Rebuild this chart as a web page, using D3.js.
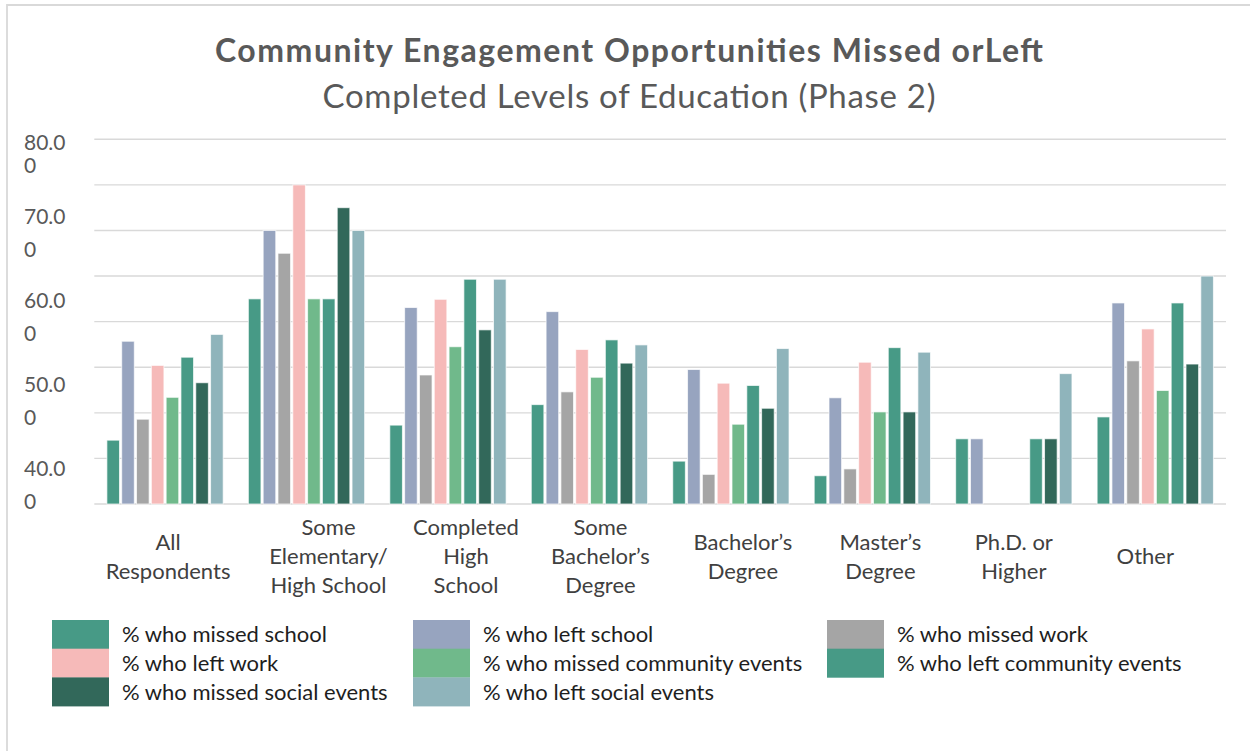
<!DOCTYPE html>
<html>
<head>
<meta charset="utf-8">
<script src="https://cdn.jsdelivr.net/npm/d3@7"></script>
<style>
  html, body { margin: 0; padding: 0; background: #ffffff; }
  svg { display: block; font-family: Lato, "Open Sans", "Noto Sans", sans-serif; }
</style>
</head>
<body>
<svg id="chart" width="1250" height="751"></svg>
<script>
// ---- data ----
const categories = [
  "All\nRespondents",
  "Some\nElementary/\nHigh School",
  "Completed\nHigh\nSchool",
  "Some\nBachelor’s\nDegree",
  "Bachelor’s\nDegree",
  "Master’s\nDegree",
  "Ph.D. or\nHigher",
  "Other"
];

const seriesNames = [
  "% who missed school",
  "% who left school",
  "% who missed work",
  "% who left work",
  "% who missed community events",
  "% who left community events",
  "% who missed social events",
  "% who left social events"
];

const missedSchool    = [14.0, 45.0, 17.3, 21.8,  9.4,  6.2, 14.3, 19.1];
const leftSchool      = [35.7, 60.0, 43.1, 42.2, 29.5, 23.3, 14.3, 44.1];
const missedWork      = [18.6, 55.0, 28.3, 24.6,  6.5,  7.7,  0.0, 31.4];
const leftWork        = [30.4, 70.0, 44.9, 33.9, 26.5, 31.1,  0.0, 38.4];
const missedCommunity = [23.4, 45.0, 34.5, 27.8, 17.5, 20.2,  0.0, 24.9];
const leftCommunity   = [32.2, 45.0, 49.3, 36.0, 26.0, 34.3, 14.3, 44.1];
const missedSocial    = [26.6, 65.0, 38.2, 30.9, 21.0, 20.2, 14.3, 30.7];
const leftSocial      = [37.2, 60.0, 49.3, 34.9, 34.1, 33.3, 28.6, 50.0];

const seriesValues = [missedSchool, leftSchool, missedWork, leftWork,
                      missedCommunity, leftCommunity, missedSocial, leftSocial];

const yTickLabels = ["80.00", "70.00", "60.00", "50.00", "40.00"];

// ---- styling ----
const seriesColors = ["#479A86", "#97A4BF", "#A5A5A5", "#F6BAB9",
                      "#70B98B", "#479A86", "#32685A", "#8FB4BB"];
const labelNudge = [3, 22, 18, 11, 12, 8, 0, -10];

const svg = d3.select("#chart");
const plot = { left: 94.3, right: 1226, top: 139.3, bottom: 504 };

// outer frame (left and top edges visible)
svg.append("path")
  .attr("d", `M7,760 L7,5 L1260,5`)
  .attr("fill", "none")
  .attr("stroke", "#d9d9d9")
  .attr("stroke-width", 1.8);

// titles
svg.append("text")
  .attr("x", 629).attr("y", 62)
  .attr("text-anchor", "middle")
  .attr("font-size", 32).attr("font-weight", 700)
  .attr("fill", "#595959")
  .attr("textLength", 828).attr("lengthAdjust", "spacing")
  .text("Community Engagement Opportunities Missed orLeft");

svg.append("text")
  .attr("x", 629).attr("y", 108)
  .attr("text-anchor", "middle")
  .attr("font-size", 33)
  .attr("fill", "#595959")
  .attr("textLength", 613).attr("lengthAdjust", "spacing")
  .text("Completed Levels of Education (Phase 2)");

// scales
const y = d3.scaleLinear().domain([0, 80]).range([plot.bottom, plot.top]);
const x0 = d3.scaleBand().domain(categories).range([plot.left, plot.right]);
const x1 = d3.scaleBand().domain(seriesNames).range([0, x0.bandwidth()])
  .paddingInner(0.15).paddingOuter(0.85);

// gridlines
svg.append("g")
  .selectAll("line")
  .data(y.ticks(8))
  .join("line")
  .attr("x1", plot.left).attr("x2", plot.right)
  .attr("y1", d => y(d)).attr("y2", d => y(d))
  .attr("stroke", "#d9d9d9")
  .attr("stroke-width", 1.4);

// y tick labels, wrapped onto two lines
const yLab = d3.scaleLinear().domain([0, yTickLabels.length - 1])
  .range([plot.bottom - 28, plot.bottom - 28 - 84 * (yTickLabels.length - 1)]);
const yLabelG = svg.append("g")
  .attr("font-size", 21).attr("fill", "#595959");
yTickLabels.slice().reverse().forEach((lab, k) => {
  const base = yLab(k);
  yLabelG.append("text")
    .attr("x", 24).attr("y", Math.max(base, plot.top + 10.5))
    .text(lab.slice(0, 4));
  yLabelG.append("text")
    .attr("x", 24).attr("y", base + 32.5)
    .text(lab.slice(4));
});

// bars
const groups = svg.append("g")
  .selectAll("g")
  .data(categories)
  .join("g")
  .attr("transform", d => `translate(${x0(d)},0)`);

groups.selectAll("rect")
  .data((c, ci) => seriesNames.map((s, si) => ({ s, si, v: seriesValues[si][ci] }))
    .filter(d => d.v > 0))
  .join("rect")
  .attr("x", d => x1(d.s))
  .attr("y", d => y(d.v))
  .attr("width", x1.bandwidth())
  .attr("height", d => y(0) - y(d.v))
  .attr("fill", d => seriesColors[d.si])
  .attr("stroke", "rgba(255,255,255,0.7)")
  .attr("stroke-width", 1);

// category labels
const catG = svg.append("g")
  .attr("font-size", 22).attr("fill", "#404040")
  .attr("text-anchor", "middle");
categories.forEach((c, i) => {
  const lines = c.split("\n");
  const cx = x0(c) + x0.bandwidth() / 2 + labelNudge[i];
  lines.forEach((ln, j) => {
    catG.append("text")
      .attr("x", cx)
      .attr("y", 556 + (j - (lines.length - 1) / 2) * 29 + 8)
      .text(ln);
  });
});

// legend
const legendCols = [52, 413, 827];
const legendTop = 620, rowH = 28.7, swW = 57;
const leg = svg.append("g").selectAll("g")
  .data(seriesNames)
  .join("g")
  .attr("transform", (d, i) =>
    `translate(${legendCols[i % 3]},${legendTop + Math.floor(i / 3) * rowH})`);
leg.append("rect")
  .attr("width", swW).attr("height", rowH + 0.3)
  .attr("fill", (d, i) => seriesColors[i]);
leg.append("text")
  .attr("x", swW + 13).attr("y", rowH / 2 + 8)
  .attr("font-size", 22).attr("fill", "#1e1e1e")
  .text(d => d);
</script>
</body>
</html>
